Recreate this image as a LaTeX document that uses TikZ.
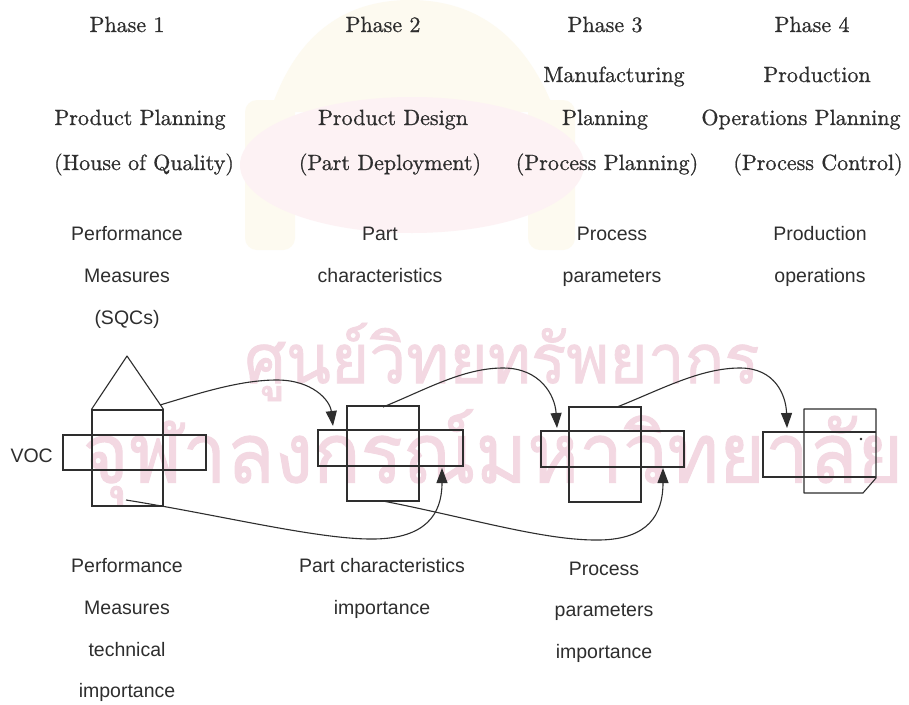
\documentclass[tikz,border=0pt]{standalone}
\usepackage{fontspec}
\usetikzlibrary{arrows.meta}
\newfontfamily\labelsans{Liberation Sans}
\newfontfamily\headserif{lmroman10-regular.otf}[FakeBold=0.8]
\newfontfamily\thaifont[Script=Thai,FakeBold=1.2]{Loma}
\definecolor{ink}{HTML}{2E2E2E}
\definecolor{stamp}{RGB}{243,216,226}
\definecolor{crestpink}{RGB}{253,242,244}
\definecolor{crestgold}{RGB}{253,250,240}

\begin{document}
\begin{tikzpicture}[x=1pt,y=-1pt,
  serif/.style={font=\headserif\fontsize{22}{26}\selectfont, text=ink, anchor=base, inner sep=0},
  sans/.style={font=\labelsans\fontsize{19.5}{23}\selectfont, text=ink, anchor=base, inner sep=0},
  boxline/.style={draw=ink, line width=1.1pt},
  part/.style={boxline, inner sep=0, minimum width=#1},
  conn/.style={draw=ink, line width=1.1pt, -{Triangle[length=15pt,width=11pt]}}]

% page and background
\fill[white] (0,0) rectangle (909,704);
\useasboundingbox (0,0) rectangle (909,704);

% faint library crest behind the headings
\fill[crestgold] (270,112) .. controls (300,20) and (360,0) .. (410,0)
                 .. controls (460,0) and (520,20) .. (555,112) -- cycle;
\fill[crestgold, rounded corners=12] (245,100) rectangle (295,250);
\fill[crestgold, rounded corners=12] (528,100) rectangle (575,250);
\fill[crestpink] (412,165) ellipse [x radius=172, y radius=68];

% faint library stamp text
\node[text=stamp, inner sep=0] (wmtop) at (502,362) {\resizebox*{515pt}{78pt}{\thaifont ศูนย์วิทยทรัพยากร}};
\node[text=stamp, inner sep=0] (wmbot) at (493,457) {\resizebox*{820pt}{95pt}{\thaifont จุฬาลงกรณ์มหาวิทยาลัย}};

% phase headings
\node[serif] (ph1) at (127,32) {Phase 1};
\node[serif] (ph2) at (383,32) {Phase 2};
\node[serif] (ph3) at (605,32) {Phase 3};
\node[serif] (ph4) at (812,32) {Phase 4};

\node[serif] (mfg)  at (614,82) {Manufacturing};
\node[serif] (prod) at (817,82) {Production};

\node[serif] (pp)  at (140,125) {Product Planning};
\node[serif] (pd)  at (393,125) {Product Design};
\node[serif] (pl)  at (605,125) {Planning};
\node[serif] (opp) at (801,125) {Operations Planning};

\node[serif] (hoq) at (144,170) {(House of Quality)};
\node[serif] (pdep) at (390,170) {(Part Deployment)};
\node[serif] (proc) at (607,170) {(Process Planning)};
\node[serif] (pctl) at (818,170) {(Process Control)};

% what each matrix lists across its top
\node[sans] (t1a) at (127,240) {Performance};
\node[sans] (t1b) at (127,282) {Measures};
\node[sans] (t1c) at (127,324) {(SQCs)};
\node[sans] (t2a) at (380,240) {Part};
\node[sans] (t2b) at (380,282) {characteristics};
\node[sans] (t3a) at (612,240) {Process};
\node[sans] (t3b) at (612,282) {parameters};
\node[sans] (t4a) at (820,240) {Production};
\node[sans] (t4b) at (820,282) {operations};

% matrix 1: house of quality
\node[part=71, minimum height=96] (m1v) at (127.5,458) {};
\node[part=143, minimum height=35] (m1h) at (134.5,452.5) {};
\draw[boxline, line join=round] (m1v.north west) -- (127,356) -- (m1v.north east);
\node[sans, anchor=base east] (voc) at (53,462) {VOC};

% matrix 2
\node[part=72, minimum height=95] (m2v) at (383,453.5) {};
\node[part=145, minimum height=36] (m2h) at (390.5,448) {};

% matrix 3
\node[part=72, minimum height=95] (m3v) at (605,454.5) {};
\node[part=143, minimum height=36] (m3h) at (612.5,449) {};

% matrix 4 with the clipped corner
\draw[boxline, line join=round] (804,409) -- (876,409) -- (876,478) -- (863,493) -- (804,493) -- cycle;
\draw[boxline] (804,432) -- (763,432) -- (763,477) -- (804,477);
\draw[boxline] (804,432) -- (876,432);
\draw[boxline] (804,477) -- (876,477);
\fill[ink] (861,439) circle (1.4);

% connector end points
\coordinate (r1) at (160,405);
\coordinate (c2in) at (333,426);
\coordinate (r2) at (383,407);
\coordinate (c3in) at (557,428);
\coordinate (r3) at (617,407);
\coordinate (c4in) at (787,428);
\coordinate (b1) at (126,500);
\coordinate (u2) at (442,468);
\coordinate (b2) at (383,501);
\coordinate (u3) at (663,468);

% columns carried forward
\draw[conn] (r1) .. controls (200,393) and (240,380) .. (277,380)
               .. controls (312,380) and (330,400) .. (c2in);
\draw[conn] (r2) .. controls (425,390) and (463,368) .. (503,368)
               .. controls (540,368) and (555,395) .. (c3in);
\draw[conn] (r3) .. controls (660,390) and (700,368) .. (740,368)
               .. controls (775,368) and (786,395) .. (c4in);

% importance rows carried forward
\draw[conn] (b1) .. controls (220,515) and (320,540) .. (375,539)
               .. controls (425,538) and (442,515) .. (u2);
\draw[conn] (b2) .. controls (470,518) and (545,541) .. (600,540)
               .. controls (648,539) and (663,515) .. (u3);

% labels beneath
\node[sans] (l1a) at (127,572) {Performance};
\node[sans] (l1b) at (127,614) {Measures};
\node[sans] (l1c) at (127,656) {technical};
\node[sans] (l1d) at (127,697) {importance};
\node[sans] (l2a) at (382,572) {Part characteristics};
\node[sans] (l2b) at (382,614) {importance};
\node[sans] (l3a) at (604,575) {Process};
\node[sans] (l3b) at (604,616) {parameters};
\node[sans] (l3c) at (604,658) {importance};
\end{tikzpicture}
\end{document}
